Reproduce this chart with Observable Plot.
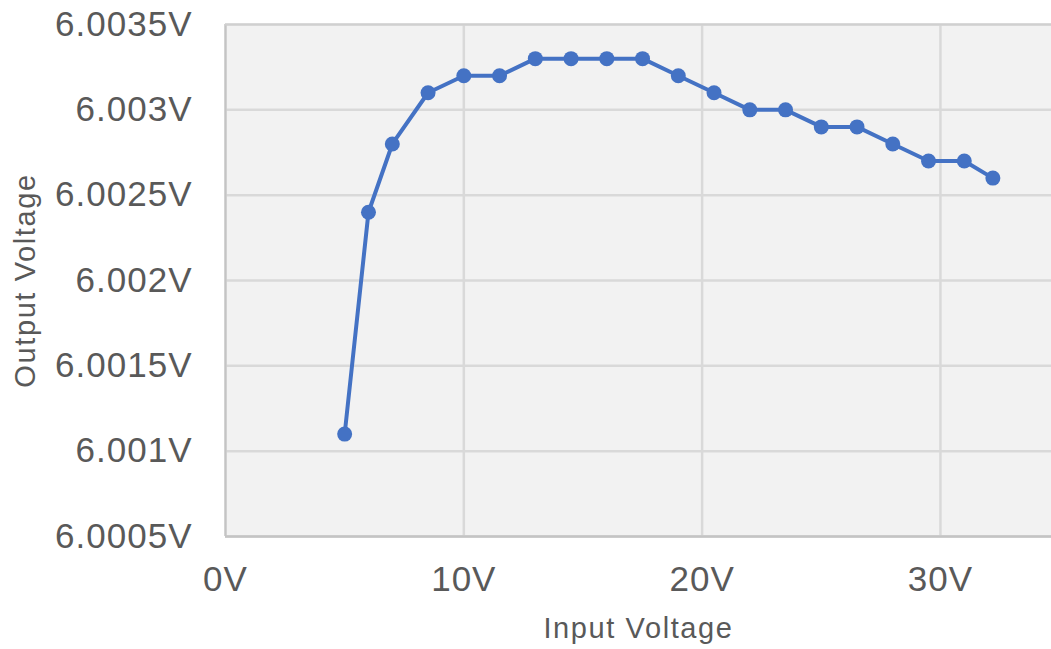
<!DOCTYPE html>
<html>
<head>
<meta charset="utf-8">
<script src="https://cdn.jsdelivr.net/npm/d3@7"></script>
<script src="https://cdn.jsdelivr.net/npm/@observablehq/plot@0.6"></script>
<style>
  html, body { margin: 0; padding: 0; background: #ffffff; overflow: hidden; }
  #chart svg { display: block; }
</style>
</head>
<body>
<div id="chart"></div>
<script>
// Regulator line regulation: output voltage vs. input voltage
const inputVoltage  = [5, 6, 7, 8.5, 10, 11.5, 13, 14.5, 16, 17.5, 19, 20.5, 22, 23.5, 25, 26.5, 28, 29.5, 31, 32.2];
const outputVoltage = [6.0011, 6.0024, 6.0028, 6.0031, 6.0032, 6.0032, 6.0033, 6.0033, 6.0033, 6.0033,
                       6.0032, 6.0031, 6.0030, 6.0030, 6.0029, 6.0029, 6.0028, 6.0027, 6.0027, 6.0026];
const xTicks = [0, 10, 20, 30];
const yTicks = [6.0005, 6.001, 6.0015, 6.002, 6.0025, 6.003, 6.0035];
const xTitle = "Input Voltage";
const yTitle = "Output Voltage";

const data = inputVoltage.map((v, i) => ({vin: v, vout: outputVoltage[i]}));

const textColor = "#595959";
const font = "'Liberation Sans', Arial, sans-serif";

const chart = Plot.plot({
  width: 1051,
  height: 649,
  marginLeft: 225,
  marginRight: 0,
  marginTop: 24,
  marginBottom: 113,
  style: {fontFamily: font, color: textColor, background: "#ffffff"},
  x: {domain: [0, 34.66]},
  y: {domain: [6.0005, 6.0035]},
  marks: [
    // plot area background
    Plot.frame({fill: "#f2f2f2", stroke: null}),
    Plot.gridX(xTicks, {stroke: "#d9d9d9", strokeOpacity: 1, strokeWidth: 2.5}),
    Plot.gridY(yTicks, {stroke: "#d9d9d9", strokeOpacity: 1, strokeWidth: 2.5}),
    // plot area border on the left, top and bottom (the right side runs off the page)
    Plot.ruleX([xTicks[0]], {stroke: "#c4c4c4", strokeWidth: 2}),
    Plot.ruleY([yTicks[0]], {stroke: "#c4c4c4", strokeWidth: 2.5}),
    Plot.ruleY([yTicks[yTicks.length - 1]], {stroke: "#d0d0d0", strokeWidth: 2}),
    Plot.axisX({
      ticks: xTicks, tickSize: 0, tickPadding: 30, label: null,
      tickFormat: d => `${d}V`, fontSize: 35, fill: textColor
    }),
    Plot.axisY({
      ticks: yTicks, tickSize: 0, tickPadding: 33, label: null,
      tickFormat: d => `${d}V`, fontSize: 35, fill: textColor
    }),
    Plot.line(data, {x: "vin", y: "vout", stroke: "#4472c4", strokeWidth: 4, curve: "linear"}),
    Plot.dot(data, {x: "vin", y: "vout", r: 7.5, fill: "#4472c4", stroke: null}),
    Plot.text([xTitle], {
      frameAnchor: "bottom", lineAnchor: "middle", textAnchor: "middle", dy: 92,
      fontSize: 29, fill: textColor
    }),
    Plot.text([yTitle], {
      frameAnchor: "left", lineAnchor: "middle", textAnchor: "middle", rotate: -90, dx: -200,
      fontSize: 29, fill: textColor
    })
  ]
});

// Slightly wider letter spacing for the axis text
d3.select(chart).selectAll("g[aria-label='x-axis tick label'] text, g[aria-label='y-axis tick label'] text")
  .style("letter-spacing", "1px");
d3.select(chart).selectAll("g[aria-label='text'] text")
  .style("letter-spacing", "1.6px");

document.getElementById("chart").append(chart);
</script>
</body>
</html>
